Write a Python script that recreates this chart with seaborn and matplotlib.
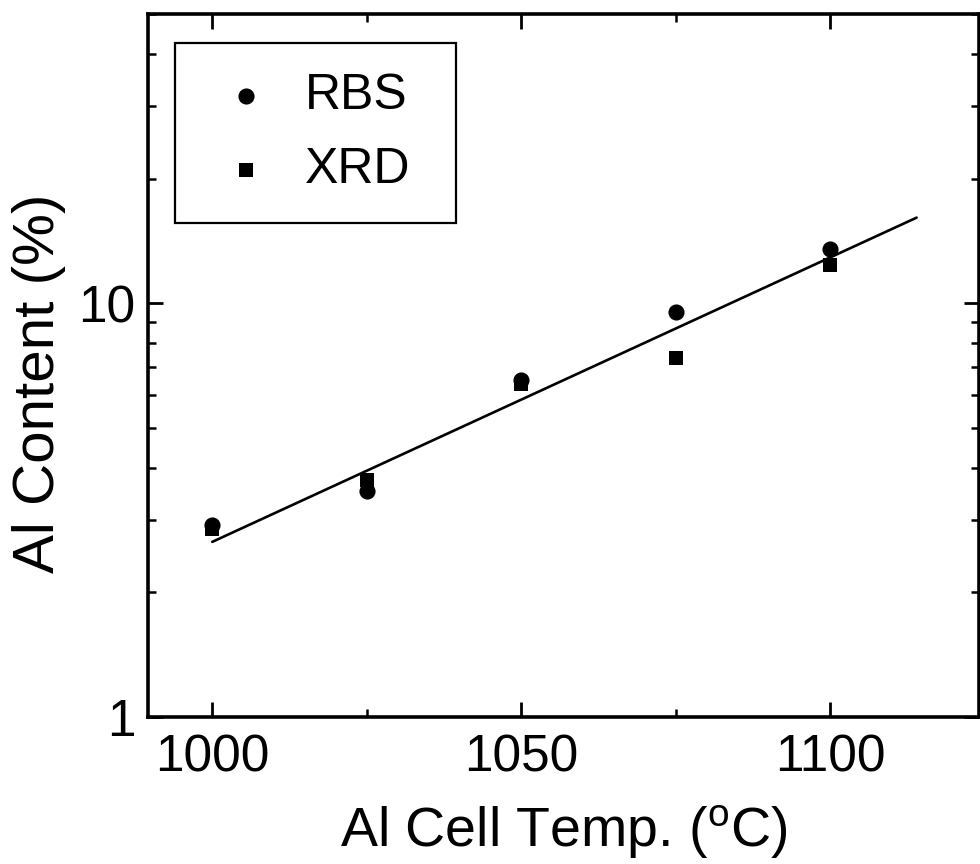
import matplotlib
matplotlib.use("Agg")
import matplotlib.pyplot as plt
import matplotlib.ticker as ticker
import seaborn as sns
import pandas as pd

# Data
temps = [1000, 1025, 1050, 1075, 1100]
rbs = [2.91, 3.51, 6.51, 9.51, 13.5]
xrd = [2.85, 3.73, 6.39, 7.39, 12.4]
fit_x = [1000, 1114]
fit_y = [2.65, 16.1]
x_label = r"Al Cell Temp. ($^{\rm o}$C)"
y_label = "Al Content (%)"
series_names = ["RBS", "XRD"]

sns.set_style("ticks")
plt.rcParams["font.family"] = ["Liberation Sans", "DejaVu Sans"]
plt.rcParams["mathtext.fontset"] = "custom"
plt.rcParams["mathtext.rm"] = "Liberation Sans"
plt.rcParams["mathtext.it"] = "Liberation Sans:italic"
plt.rcParams["text.color"] = "black"
plt.rcParams["axes.labelcolor"] = "black"
plt.rcParams["xtick.color"] = "black"
plt.rcParams["ytick.color"] = "black"
plt.rcParams["xtick.labelcolor"] = "black"
plt.rcParams["ytick.labelcolor"] = "black"

fig = plt.figure(figsize=(9.8, 8.64), dpi=100)
ax = fig.add_axes([148 / 980, 1 - 717 / 864, (979 - 148) / 980, (717 - 14) / 864])

df_rbs = pd.DataFrame({"T": temps, "v": rbs})
df_xrd = pd.DataFrame({"T": temps, "v": xrd})
df_fit = pd.DataFrame({"T": fit_x, "v": fit_y})

sns.lineplot(data=df_fit, x="T", y="v", ax=ax, color="black", linewidth=1.9, zorder=2)
sns.scatterplot(data=df_rbs, x="T", y="v", ax=ax, marker="o", s=135, color="black",
                linewidth=0, label=series_names[0], zorder=3)
sns.scatterplot(data=df_xrd, x="T", y="v", ax=ax, marker="s", s=110, color="black",
                linewidth=0, label=series_names[1], zorder=3)

ax.set_yscale("log")
ax.set_ylim(1, 50)
ax.set_xlim(989.6, 1124.1)

ax.xaxis.set_major_locator(ticker.MultipleLocator(50))
ax.xaxis.set_minor_locator(ticker.MultipleLocator(25))
ax.yaxis.set_major_locator(ticker.LogLocator(base=10))
ax.yaxis.set_minor_locator(ticker.LogLocator(base=10, subs=range(2, 10)))
ax.yaxis.set_major_formatter(ticker.FuncFormatter(lambda v, _: f"{v:g}"))
ax.yaxis.set_minor_formatter(ticker.NullFormatter())

ax.tick_params(which="both", direction="in", top=True, right=True, colors="black")
ax.tick_params(which="major", length=11, width=2.0, labelsize=37, pad=12)
ax.tick_params(axis="y", which="major", pad=9)
ax.tick_params(which="minor", length=6, width=1.8)
for sp in ax.spines.values():
    sp.set_visible(True)
    sp.set_linewidth(2.6)
    sp.set_color("black")

ax.set_xlabel(x_label, fontsize=40, labelpad=15)
ax.set_ylabel(y_label, fontsize=42)
ax.yaxis.set_label_coords(-0.099, 0.474)

leg = ax.legend(loc="upper left", bbox_to_anchor=(0.0325, 0.0, 0.338, 0.9587),
                mode="expand", fontsize=36, frameon=True, fancybox=False,
                edgecolor="black", framealpha=1, borderaxespad=0.0,
                handletextpad=0.38, handlelength=1.62, labelspacing=0.56,
                borderpad=0.6, markerscale=1.0)
leg.get_frame().set_linewidth(1.6)

fig.savefig("out.png", dpi=100)
